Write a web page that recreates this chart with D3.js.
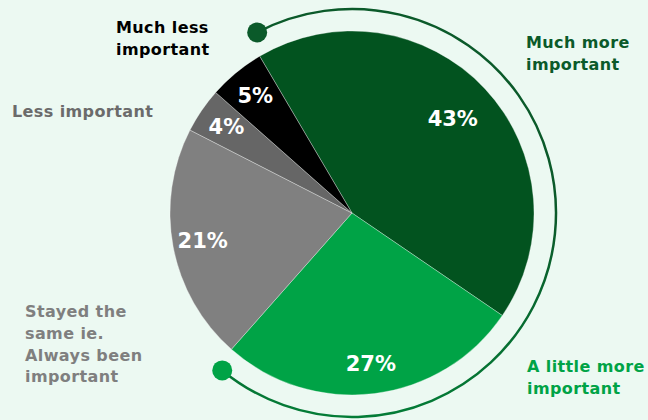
<!DOCTYPE html>
<html><head><meta charset="utf-8">
<script src="https://cdn.jsdelivr.net/npm/d3@7"></script>
<style>
html,body{margin:0;padding:0;background:#ecf9f2;}
svg{display:block;}
text{font-family:"DejaVu Sans",sans-serif;font-weight:bold;}
</style></head>
<body><svg id="chart" width="648" height="420"></svg>
<script>
const categories = ["Much more important","A little more important","Stayed the same ie. Always been important","Less important","Much less important"];
const values = [43, 27, 21, 4, 5];
const colors = ["#02531f","#00a346","#808080","#666666","#000000"];
const labelColors = ["#0b5a2a","#00a346","#7f7f7f","#6b6b6b","#000000"];
const labelLines = [["Much more","important"],["A little more","important"],["Stayed the","same ie.","Always been","important"],["Less important"],["Much less","important"]];

const W = 648, H = 420;
const cx = 352, cy = 213, R = 182;
const svg = d3.select("#chart");
svg.append("rect").attr("width",W).attr("height",H).attr("fill","#ecf9f2");

const startAngle = -30.5 * Math.PI/180;
const pie = d3.pie().sort(null).value(d=>d.v)
  .startAngle(startAngle).endAngle(startAngle + 2*Math.PI);
const data = values.map((v,i)=>({v, i, name: categories[i]}));
const arcs = pie(data);
const arc = d3.arc().innerRadius(0).outerRadius(R);

const g = svg.append("g").attr("transform",`translate(${cx},${cy})`);

// decorative ring arc
const defs = svg.append("defs");
const grad = defs.append("linearGradient").attr("id","ringGrad")
  .attr("gradientUnits","userSpaceOnUse").attr("x1",0).attr("y1",cy-205).attr("x2",0).attr("y2",cy+205);
grad.append("stop").attr("offset","0%").attr("stop-color","#0b5a2a");
grad.append("stop").attr("offset","45%").attr("stop-color","#047a36");
grad.append("stop").attr("offset","100%").attr("stop-color","#00a346");
const ringR = 204;
const a0 = -27.7*Math.PI/180, a1 = 219.5*Math.PI/180;
g.append("path")
  .attr("d", d3.arc().innerRadius(ringR).outerRadius(ringR).startAngle(a0).endAngle(a1)())
  .attr("fill","none").attr("stroke","url(#ringGrad)").attr("stroke-width",2.5)
  .attr("transform",`translate(${-cx},${-cy}) translate(${cx},${cy})`);
g.append("circle").attr("cx",ringR*Math.sin(a0)).attr("cy",-ringR*Math.cos(a0)).attr("r",10).attr("fill","#0b5a2a");
g.append("circle").attr("cx",ringR*Math.sin(a1)).attr("cy",-ringR*Math.cos(a1)).attr("r",10).attr("fill","#00a346");

g.selectAll("path.slice").data(arcs).enter().append("path")
  .attr("class","slice")
  .attr("d",arc)
  .attr("fill",d=>colors[d.data.i])
  .attr("stroke","rgba(255,255,255,0.45)").attr("stroke-width",0.7);

g.selectAll("text.pct").data(arcs).enter().append("text")
  .attr("class","pct")
  .attr("transform",d=>{
    const m=(d.startAngle+d.endAngle)/2;
    const r = d.data.v>40 ? 138 : 152;
    return `translate(${r*Math.sin(m)},${-r*Math.cos(m)})`;
  })
  .attr("text-anchor","middle").attr("dominant-baseline","central")
  .attr("fill","#ffffff").attr("font-size",21)
  .text(d=>d.data.v+"%");

// category labels
const labelPos = [
  {x:526, y:48},
  {x:527, y:372},
  {x:25, y:317},
  {x:12, y:117},
  {x:116, y:33}
];
labelLines.forEach((lines,i)=>{
  const t = svg.append("text").attr("x",labelPos[i].x).attr("y",labelPos[i].y)
    .attr("fill",labelColors[i]).attr("font-size",16).attr("letter-spacing",0.4);
  lines.forEach((ln,j)=>{
    t.append("tspan").attr("x",labelPos[i].x).attr("dy", j===0?0:21.8).text(ln);
  });
});
</script></body></html>
